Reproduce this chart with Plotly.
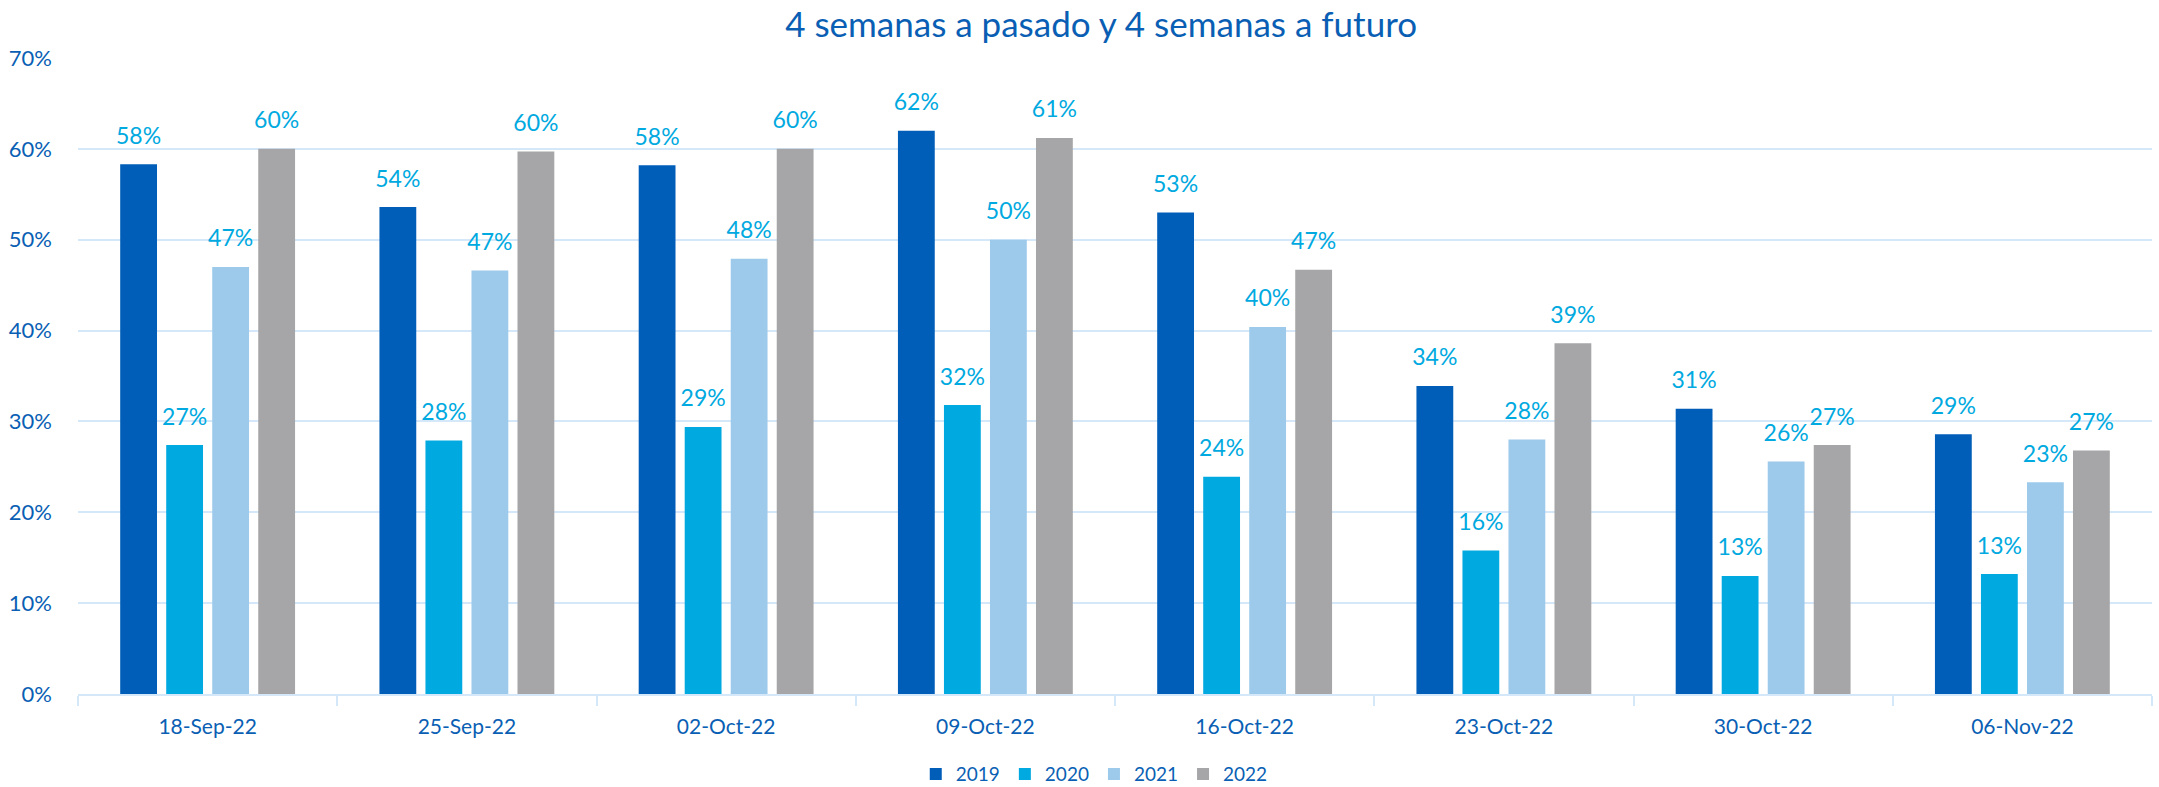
import plotly.graph_objects as go

categories = ["18-Sep-22", "25-Sep-22", "02-Oct-22", "09-Oct-22",
              "16-Oct-22", "23-Oct-22", "30-Oct-22", "06-Nov-22"]
series_names = ["2019", "2020", "2021", "2022"]
v2019 = [58.3, 53.6, 58.2, 62.0, 53.0, 33.9, 31.4, 28.6]
v2020 = [27.4, 27.9, 29.4, 31.8, 23.9, 15.8, 13.0, 13.2]
v2021 = [47.0, 46.6, 47.9, 50.0, 40.4, 28.0, 25.6, 23.3]
v2022 = [60.0, 59.7, 60.0, 61.2, 46.7, 38.6, 27.4, 26.8]
series_values = [v2019, v2020, v2021, v2022]
colors = ["#005EB8", "#00A9E0", "#9DCAEB", "#A6A6A8"]

FONT = "Lato, 'Open Sans', sans-serif"
label_color = "#00A9E0"
axis_text = "#0A5FB4"
grid = "#D5E8F9"

fig = go.Figure()
for name, vals, col in zip(series_names, series_values, colors):
    fig.add_trace(go.Bar(
        name=name, x=categories, y=[v / 100 for v in vals],
        marker=dict(color=col, line=dict(width=0)),
    ))
for name, vals in zip(series_names, series_values):
    fig.add_trace(go.Scatter(
        name=name, x=categories, y=[v / 100 for v in vals],
        mode="markers+text", showlegend=False, hoverinfo="skip",
        marker=dict(size=22, opacity=0),
        text=[f"{int(v + 0.5)}%" for v in vals],
        textposition="top center",
        textfont=dict(family=FONT, size=23, color=label_color),
        cliponaxis=False,
    ))

fig.update_layout(
    width=2159, height=787,
    paper_bgcolor="white", plot_bgcolor="white",
    barmode="group", bargap=0.29, bargroupgap=0.2,
    scattermode="group", scattergap=0.29,
    margin=dict(l=78, r=7, t=58, b=93, autoexpand=False),
    title=dict(text="4 semanas a pasado y 4 semanas a futuro",
               x=0.51, xanchor="center", y=0.968, yanchor="middle",
               font=dict(family=FONT, size=35, color=axis_text)),
    font=dict(family=FONT, color=axis_text),
    legend=dict(orientation="h", x=0.49, xanchor="center", y=-0.126,
                yanchor="middle", font=dict(family=FONT, size=19, color=axis_text),
                itemwidth=30, traceorder="normal"),
)
fig.update_yaxes(range=[0, 0.7], dtick=0.1, tickformat=".0%",
                 showgrid=True, gridcolor=grid, gridwidth=2,
                 zeroline=False, showline=False, ticks="",
                 ticklabelstandoff=25,
                 tickfont=dict(family=FONT, size=22, color=axis_text))
fig.update_xaxes(showline=True, linecolor=grid, linewidth=2,
                 ticks="outside", tickson="boundaries", ticklen=10,
                 tickcolor=grid, tickwidth=2, ticklabelstandoff=13,
                 tickfont=dict(family=FONT, size=21, color=axis_text))

fig.write_html("out.html", config={"displayModeBar": False},
               post_script="document.body.style.margin='0';document.body.style.overflow='hidden';")
